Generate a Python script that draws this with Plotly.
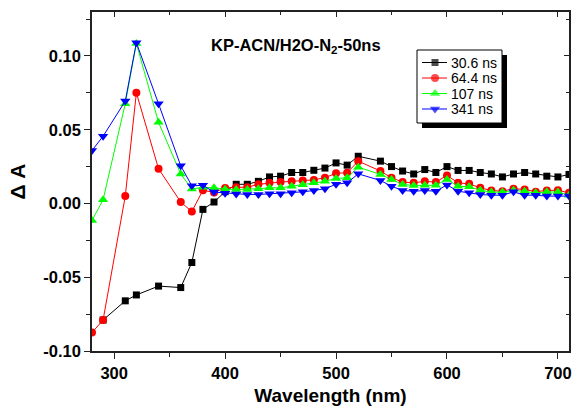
import plotly.graph_objects as go

wavelength = [280, 290, 310, 320, 340, 360, 370, 380, 390,
              400, 410, 420, 430, 440, 450, 460, 470, 480, 490, 500, 510, 520,
              540, 550, 560, 570, 580, 590, 600, 610, 620, 630, 640, 650, 660,
              670, 680, 690, 700, 710]

s30_6 = [None, -0.079, -0.066, -0.062, -0.056, -0.057, -0.040, -0.004, 0.001,
         0.008, 0.013, 0.013, 0.015, 0.018, 0.0185, 0.021, 0.021, 0.0225, 0.024, 0.0275, 0.026, 0.032,
         0.0287, 0.025, 0.022, 0.020, 0.023, 0.021, 0.025, 0.0224, 0.0224, 0.021, 0.020, 0.018, 0.020,
         0.021, 0.020, 0.0185, 0.018, 0.0197]

s64_4 = [-0.0875, -0.079, 0.005, 0.075, 0.0235, 0.001, -0.0055, 0.009, 0.0075,
         0.0105, 0.011, 0.011, 0.013, 0.014, 0.0145, 0.015, 0.0155, 0.016, 0.0175, 0.0205, 0.0208, 0.0287,
         0.022, 0.0174, 0.0145, 0.014, 0.015, 0.0145, 0.019, 0.014, 0.0133, 0.0106, 0.0088, 0.0083, 0.010,
         0.0095, 0.008, 0.0088, 0.009, 0.0072]

s107 = [-0.0115, 0.0025, 0.0676, 0.1085, 0.055, 0.020, 0.0098, 0.011, 0.0106,
        0.0097, 0.0095, 0.0095, 0.010, 0.0106, 0.0106, 0.0117, 0.0127, 0.014, 0.015, 0.017, 0.0174, 0.0246,
        0.0197, 0.0163, 0.0129, 0.0122, 0.0124, 0.0124, 0.0163, 0.0117, 0.0113, 0.009, 0.0077, 0.0077, 0.009,
        0.0083, 0.0072, 0.0079, 0.0077, 0.0056]

s341 = [0.0359, 0.0456, 0.0694, 0.109, 0.0676, 0.0255, 0.012, 0.0123, 0.0077,
        0.007, 0.0064, 0.0061, 0.0061, 0.0066, 0.0066, 0.0072, 0.0079, 0.0088, 0.010, 0.013, 0.014, 0.0201,
        0.0156, 0.0117, 0.0088, 0.0083, 0.0088, 0.0083, 0.0126, 0.0083, 0.0072, 0.0061, 0.0056, 0.0056, 0.0079,
        0.0056, 0.0056, 0.005, 0.005, 0.005]

series_names = ["30.6 ns", "64.4 ns", "107 ns", "341 ns"]
series_values = [s30_6, s64_4, s107, s341]
colors = ["#000000", "#FF0000", "#00FF00", "#0000FF"]
symbols = ["square", "circle", "triangle-up", "triangle-down"]
sizes = [7, 8, 9, 9]

x_ticks = [300, 400, 500, 600, 700]
x_minor = [350, 450, 550, 650]
y_ticks = [-0.10, -0.05, 0.00, 0.05, 0.10]
y_ticklabels = ["-0.10", "-0.05", "0.00", "0.05", "0.10"]
y_minor = [-0.075, -0.025, 0.025, 0.075, 0.125]
X_RANGE = [280, 710]
Y_RANGE = [-0.10, 0.1298]

FONT = "Arial, Liberation Sans, sans-serif"
AX = "#222"

L, R, T, B = 92, 5, 12, 60
W, H = 574, 411
pw, ph = W - L - R, H - T - B

def px2paper(x, y):
    return (x - L) / pw, (H - B - y) / ph

def px2data(x, y):
    px_, py_ = px2paper(x, y)
    return (X_RANGE[0] + px_ * (X_RANGE[1] - X_RANGE[0]),
            Y_RANGE[0] + py_ * (Y_RANGE[1] - Y_RANGE[0]))

fig = go.Figure()
for name, vals, c, sym, sz in zip(series_names, series_values, colors, symbols, sizes):
    fig.add_trace(go.Scatter(
        x=wavelength, y=vals, name=name, mode="lines+markers",
        line=dict(color=c, width=1),
        marker=dict(symbol=sym, size=sz, color=c, line=dict(width=0)),
        showlegend=False, hoverinfo="skip",
    ))

# ---- custom legend (Origin-style box with drop shadow) ----
box_l, box_t, box_r, box_b = 417, 50, 502, 123
shadow = 5
row_y = [62.5, 78, 93.5, 109]
line_x0, line_x1, mark_x, text_x = 422, 447, 435, 449

a0, b1 = px2paper(box_l + shadow, box_t + shadow)
a1, b0 = px2paper(box_r + shadow, box_b + shadow)
fig.add_shape(type="rect", xref="paper", yref="paper", x0=a0, x1=a1, y0=b0, y1=b1,
              fillcolor="black", line=dict(width=0), layer="below")
a0, b1 = px2paper(box_l, box_t)
a1, b0 = px2paper(box_r, box_b)
fig.add_shape(type="rect", xref="paper", yref="paper", x0=a0, x1=a1, y0=b0, y1=b1,
              fillcolor="white", line=dict(color="black", width=1), layer="below")

lm_x, lm_y = [], []
for name, c, ry in zip(series_names, colors, row_y):
    p0, q = px2paper(line_x0, ry)
    p1, _ = px2paper(line_x1, ry)
    fig.add_shape(type="line", xref="paper", yref="paper", x0=p0, x1=p1, y0=q, y1=q,
                  line=dict(color=c, width=1), layer="below")
    tx_, ty_ = px2paper(text_x, ry)
    fig.add_annotation(text=name, xref="paper", yref="paper", x=tx_, y=ty_,
                       showarrow=False, xanchor="left", yanchor="middle",
                       font=dict(family=FONT, size=14, color="black"))
    dx, dy = px2data(mark_x, ry)
    lm_x.append(dx)
    lm_y.append(dy)

fig.add_trace(go.Scatter(
    x=lm_x, y=lm_y, mode="markers", xaxis="x2", yaxis="y2", showlegend=False, hoverinfo="skip",
    marker=dict(symbol=symbols, size=sizes, color=colors, line=dict(width=0)), cliponaxis=False,
))

tx, ty = px2paper(296, 46)
fig.add_annotation(text="KP-ACN/H2O-N<sub>2</sub>-50ns", xref="paper", yref="paper",
                   x=tx, y=ty, showarrow=False, xanchor="center", yanchor="middle",
                   font=dict(family=FONT, size=16.5, color="black", weight="bold"))

fig.update_layout(
    width=W, height=H,
    margin=dict(l=L, r=R, t=T, b=B, autoexpand=False),
    paper_bgcolor="white", plot_bgcolor="white",
    font=dict(family=FONT, color="black"),
    showlegend=False,
    xaxis=dict(range=X_RANGE, tickvals=x_ticks, ticks="outside", ticklen=6, tickwidth=1.3,
               tickcolor=AX, showline=True, linecolor=AX, linewidth=1.5, mirror=True,
               showgrid=False, zeroline=False, automargin=False,
               minor=dict(tickvals=x_minor, ticks="outside", ticklen=4, tickwidth=1.3, tickcolor=AX),
               tickfont=dict(family=FONT, size=16.5, weight="bold"),
               title=dict(text="Wavelength (nm)", font=dict(family=FONT, size=19, weight="bold"), standoff=8)),
    yaxis=dict(range=Y_RANGE, tickvals=y_ticks, ticktext=y_ticklabels, ticks="outside", ticklen=6,
               tickwidth=1.3, tickcolor=AX, showline=True, linecolor=AX, linewidth=1.5, mirror=True,
               showgrid=False, zeroline=False, automargin=False,
               minor=dict(tickvals=y_minor, ticks="outside", ticklen=4, tickwidth=1.3, tickcolor=AX),
               tickfont=dict(family=FONT, size=16.5, weight="bold"),
               title=dict(text="Δ A", font=dict(family=FONT, size=21, weight="bold"), standoff=12)),
    xaxis2=dict(overlaying="x", side="top", range=X_RANGE, tickvals=x_ticks, ticks="inside", ticklen=5,
                tickwidth=1.3, tickcolor=AX, showticklabels=False, showline=False, showgrid=False,
                zeroline=False, automargin=False,
                minor=dict(tickvals=x_minor, ticks="inside", ticklen=3, tickwidth=1.3, tickcolor=AX)),
    yaxis2=dict(overlaying="y", side="right", range=Y_RANGE, tickvals=y_ticks, ticks="inside", ticklen=5,
                tickwidth=1.3, tickcolor=AX, showticklabels=False, showline=False, showgrid=False,
                zeroline=False, automargin=False,
                minor=dict(tickvals=y_minor, ticks="inside", ticklen=3, tickwidth=1.3, tickcolor=AX)),
)

fig.write_html("out.html", config={"displayModeBar": False},
               post_script="document.body.style.margin='0';document.body.style.padding='0';")
